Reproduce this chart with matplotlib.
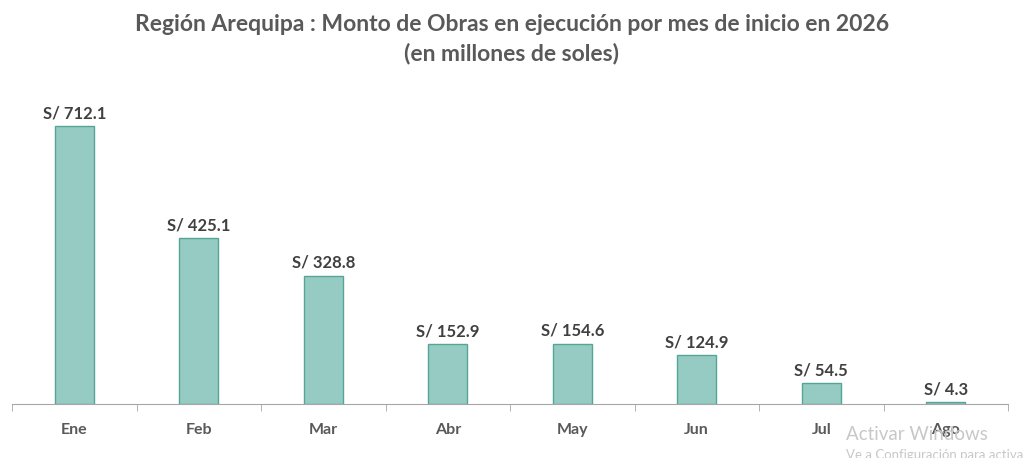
import numpy as np
import matplotlib.pyplot as plt

meses = ['Ene', 'Feb', 'Mar', 'Abr', 'May', 'Jun', 'Jul', 'Ago']
montos = [712.1, 425.1, 328.8, 152.9, 154.6, 124.9, 54.5, 4.3]
titulo = 'Región Arequipa : Monto de Obras en ejecución por mes de inicio en 2026\n(en millones de soles)'

plt.rcParams['font.family'] = ['Lato', 'DejaVu Sans']

fig = plt.figure(figsize=(10.24, 4.58), dpi=100)
ax = fig.add_axes([12/1024, 1 - 404/458, 996/1024, 309/458])

x = np.arange(len(meses))
ax.bar(x, montos, width=0.31, color='#96cbc4', edgecolor='#55a597', linewidth=1)

for xi, v in zip(x, montos):
    ax.text(xi, v + 12, f'S/ {v:.1f}', ha='center', va='bottom',
            fontsize=12, fontweight='bold', color='#404040')

ax.set_xlim(-0.5, len(meses) - 0.5)
ax.set_ylim(0, 791.5)
ax.set_yticks([])
for s in ['top', 'right', 'left']:
    ax.spines[s].set_visible(False)
ax.spines['bottom'].set_color('#a6a6a6')

ax.set_xticks(x)
ax.set_xticklabels(meses, fontsize=11.5, fontweight='bold', color='#595959')
ax.tick_params(axis='x', length=0, pad=14)
ax.set_xticks(np.arange(-0.5, len(meses)), minor=True)
ax.tick_params(axis='x', which='minor', length=5, color='#a6a6a6')

fig.text(0.5, 0.97, titulo, ha='center', va='top', fontsize=16.5,
         fontweight='bold', color='#595959', linespacing=1.45)

# marca de agua de la captura
fig.text(846/1024, 1 - 434/458, 'Activar Windows', fontsize=13.5,
         color='#c8c8c8', va='center', ha='left')
fig.text(846/1024, 1 - 455/458, 'Ve a Configuración para activar Windows', fontsize=9.5,
         color='#c8c8c8', va='center', ha='left')

fig.savefig('out.png', dpi=100)
